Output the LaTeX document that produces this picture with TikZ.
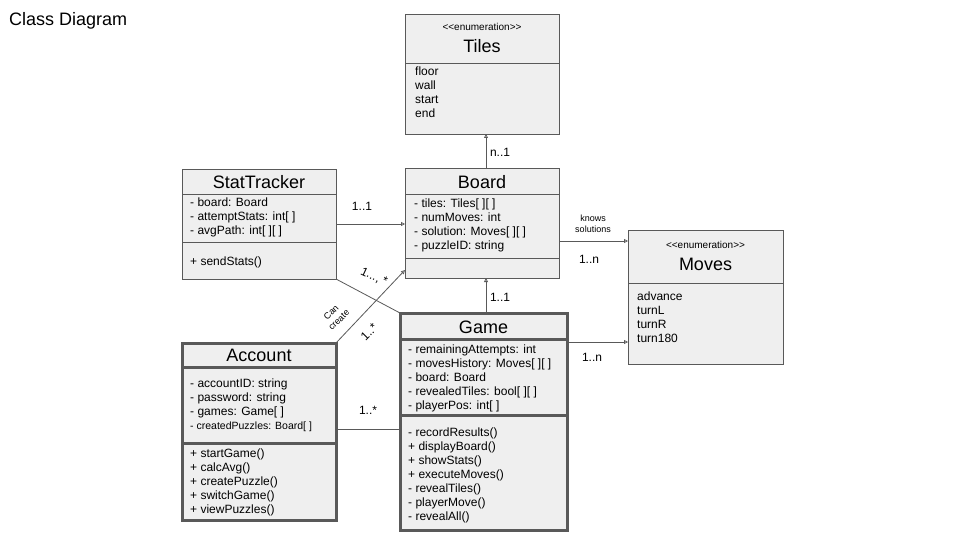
\documentclass[tikz,border=0pt]{standalone}
\usepackage{fontspec}
\setmainfont{Liberation Sans}
\usepackage{tikz}
\usetikzlibrary{arrows.meta, positioning}

\definecolor{boxfill}{HTML}{EFEFEF}
\definecolor{boxline}{HTML}{595959}
\newcommand{\fsz}[2]{\fontsize{#1}{#2}\selectfont}

\begin{document}
\begin{tikzpicture}[x=1pt,y=1pt,yscale=-1,
  classbox/.style={draw=boxline, fill=boxfill, line width=0.9, inner sep=0, outer sep=0, anchor=north west},
  thickbox/.style={classbox, line width=3},
  divider/.style={draw=boxline, line width=0.9},
  thickdivider/.style={draw=boxline, line width=3},
  cname/.style={font=\fsz{18}{20}, inner sep=0},
  stereo/.style={font=\fsz{10}{12}, inner sep=0},
  members/.style={font=\fsz{12}{14}, align=left, anchor=north west, inner sep=0},
  mult/.style={font=\fsz{12}{14}, inner sep=0},
  note/.style={font=\fsz{9}{11}, align=center, inner sep=0},
  assoc/.style={draw=boxline, line width=0.8},
  nav/.style={assoc, -{Triangle[open, length=4pt, width=4pt]}}]
%set diagram size
\fill[white] (0,0) rectangle (960,540);
\useasboundingbox (0,0) rectangle (960,540);

% Text Node
\node[anchor=west, font=\fsz{18}{20}, inner sep=0] (heading) at (9,21) {Class Diagram};

%Class: Tiles
\node[classbox, minimum width=154, minimum height=120] (tiles) at (405,14) {};
\draw[divider] (tiles.west |- 0,63) -- (tiles.east |- 0,63);
\node[stereo] (tilesstereo) at (tiles.north |- 0,27) {{<}{<}enumeration{>}{>}};
\node[cname] (tilesname) at (tiles.north |- 0,46) {Tiles};
\node[members] (tilesvals) at (415,66.5) {floor\\wall\\start\\end};

%Class: Board
\node[classbox, minimum width=154, minimum height=110] (board) at (405,168) {};
\draw[divider] (board.west |- 0,194) -- (board.east |- 0,194);
\draw[divider] (board.west |- 0,258) -- (board.east |- 0,258);
\node[cname] (boardname) at (board.north |- 0,182) {Board};
\node[members] (boardattr) at (414,198.5) {- tiles: Tiles[ ][ ]\\- numMoves: int\\- solution: Moves[ ][ ]\\- puzzleID: string};

%Class: StatTracker
\node[classbox, minimum width=154, minimum height=110] (stat) at (182,169) {};
\draw[divider] (stat.west |- 0,194) -- (stat.east |- 0,194);
\draw[divider] (stat.west |- 0,242) -- (stat.east |- 0,242);
\node[cname] (statname) at (stat.north |- 0,182) {StatTracker};
\node[members] (statattr) at (190,197.5) {- board: Board\\- attemptStats: int[ ]\\- avgPath: int[ ][ ]};
\node[members] (statops) at (190,256.5) {+ sendStats()};

%Class: Moves
\node[classbox, minimum width=155, minimum height=134] (moves) at (628,230) {};
\draw[divider] (moves.west |- 0,283) -- (moves.east |- 0,283);
\node[stereo] (movesstereo) at (moves.north |- 0,245) {{<}{<}enumeration{>}{>}};
\node[cname] (movesname) at (moves.north |- 0,264) {Moves};
\node[members] (movesvals) at (637,291.5) {advance\\turnL\\turnR\\turn180};

%Class: Account
\node[thickbox, minimum width=154, minimum height=177] (account) at (182,343) {};
\draw[thickdivider] (account.west |- 0,367) -- (account.east |- 0,367);
\draw[thickdivider] (account.west |- 0,443) -- (account.east |- 0,443);
\node[cname] (accountname) at (account.north |- 0,355) {Account};
\node[members] (accountattr) at (190,378.5) {- accountID: string\\- password: string\\- games: Game[ ]\\{\fsz{10.5}{14}- createdPuzzles: Board[ ]}};
\node[members] (accountops) at (190,448.5) {+ startGame()\\+ calcAvg()\\+ createPuzzle()\\+ switchGame()\\+ viewPuzzles()};

%Class: Game
\node[thickbox, minimum width=167, minimum height=217] (game) at (400,313) {};
\draw[thickdivider] (game.west |- 0,339) -- (game.east |- 0,339);
\draw[thickdivider] (game.west |- 0,415) -- (game.east |- 0,415);
\node[cname] (gamename) at (game.north |- 0,327) {Game};
\node[members] (gameattr) at (408,344.5) {- remainingAttempts: int\\- movesHistory: Moves[ ][ ]\\- board: Board\\- revealedTiles: bool[ ][ ]\\- playerPos: int[ ]};
\node[members] (gameops) at (408,427.5) {- recordResults()\\+ displayBoard()\\+ showStats()\\+ executeMoves()\\- revealTiles()\\- playerMove()\\- revealAll()};

%Connectors
\draw[nav] ([xshift=4pt]board.north) -- ([xshift=4pt]tiles.south);
\draw[nav] (stat.east) -- (stat.east -| board.west);
\draw[nav] (board.east |- 0,241) -- (moves.west |- 0,241);
\draw[nav] (game.east |- 0,342) -- (moves.west |- 0,342);
\draw[nav] (game.north -| 486,0) -- (board.south -| 486,0);
\draw[assoc] (account.east |- 0,429) -- (game.west |- 0,429);
\draw[nav] (account.north east) -- (board.west |- 0,270);
\draw[assoc] (stat.south east) -- (game.north west);

% Text Node
\node[mult] (m1) at (500,152) {n..1};
\node[mult] (m2) at (362,206) {1..1};
\node[mult] (m3) at (500,297) {1..1};
\node[mult] (m4) at (589,259) {1..n};
\node[mult] (m5) at (592,357) {1..n};
\node[mult] (m6) at (368,410) {1..*};
\node[mult, rotate=45] (m7) at (369,332) {1..*};
\node[mult, rotate=-25] (m8) at (374,277) {1..., *};
\node[note] (knows) at (593,224) {knows\\solutions};
\node[note, rotate=45] (cancreate) at (335,316) {Can\\create};

\end{tikzpicture}
\end{document}
